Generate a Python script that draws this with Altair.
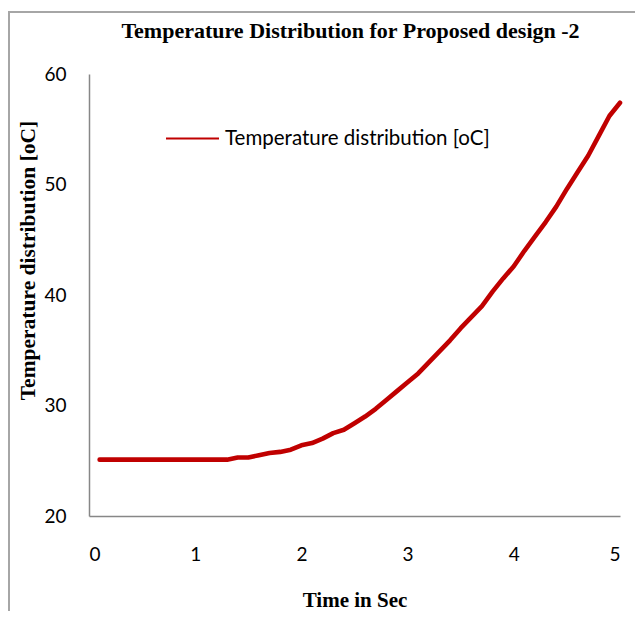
import altair as alt
import pandas as pd

# Time (s) and temperature (oC)
time_s = [0.1, 0.2, 0.3, 0.4, 0.5, 0.6, 0.7, 0.8, 0.9, 1.0,
          1.1, 1.2, 1.3, 1.4, 1.5, 1.6, 1.7, 1.8, 1.9, 2.0,
          2.1, 2.2, 2.3, 2.4, 2.5, 2.6, 2.7, 2.8, 2.9, 3.0,
          3.1, 3.2, 3.3, 3.4, 3.5, 3.6, 3.7, 3.8, 3.9, 4.0,
          4.1, 4.2, 4.3, 4.4, 4.5, 4.6, 4.7, 4.8, 4.9, 5.0]
temperature = [25.1, 25.1, 25.1, 25.1, 25.1, 25.1, 25.1, 25.1, 25.1, 25.1,
               25.1, 25.1, 25.1, 25.3, 25.3, 25.5, 25.7, 25.8, 26.0, 26.4,
               26.6, 27.0, 27.5, 27.8, 28.4, 29.0, 29.7, 30.5, 31.3, 32.1,
               32.9, 33.9, 34.9, 35.9, 37.0, 38.0, 39.0, 40.3, 41.5, 42.6,
               44.0, 45.3, 46.6, 48.0, 49.6, 51.1, 52.6, 54.4, 56.2, 57.4]
series_name = "Temperature distribution [oC]"
x_ticks = [0, 1, 2, 3, 4, 5]
y_ticks = [20, 30, 40, 50, 60]

df = pd.DataFrame({"time": time_s, "temp": temperature, "series": series_name})

W, H = 531, 442

line = alt.Chart(df).mark_line(strokeWidth=4.6, strokeCap="round", strokeJoin="round").encode(
    x=alt.X("time:Q",
            scale=alt.Scale(domain=[0, 5], nice=False, zero=False),
            axis=alt.Axis(values=x_ticks, title="Time in Sec", grid=False, ticks=False,
                          tickSize=0, labelPadding=38, labelBaseline="middle",
                          titleY=84, titleBaseline="middle", titleFontSize=21,
                          format="d")),
    y=alt.Y("temp:Q",
            scale=alt.Scale(domain=[20, 60], nice=False, zero=False),
            axis=alt.Axis(values=y_ticks, title="Temperature distribution [oC]", grid=False,
                          ticks=False, tickSize=0, labelPadding=23,
                          titleX=-61, titleY=186, titleAngle=270,
                          titleBaseline="middle", titleAlign="center",
                          titleFontSize=21.5)),
    color=alt.Color("series:N",
                    scale=alt.Scale(domain=[series_name], range=["#C00000"]),
                    legend=alt.Legend(title=None, orient="none", legendX=76, legendY=37,
                                      symbolType="stroke", symbolSize=2809,
                                      symbolStrokeWidth=2, labelOffset=5,
                                      labelFont="Lato", labelFontSize=20.5,
                                      labelColor="#000000", padding=0,
                                      labelLimit=400)),
)

frame = alt.Chart(alt.Data(values=[{"a": 1}])).mark_rect(
    fill=None, stroke="#A6A6A6", strokeWidth=2
).encode(
    x=alt.value(-80), x2=alt.value(700),
    y=alt.value(-62), y2=alt.value(700),
)

chart = alt.layer(frame, line).properties(
    width=W, height=H,
    title=alt.Title("Temperature Distribution for Proposed design -2",
                    font="Liberation Serif", fontSize=22, fontWeight="bold",
                    color="#000000", anchor="middle", frame="group",
                    baseline="alphabetic", offset=0, dy=49, dx=-4),
    autosize=alt.AutoSizeParams(type="none"),
    padding={"left": 81, "top": 66, "right": 15, "bottom": 95},
).configure_view(stroke=None).configure_axis(
    domainColor="#878787", domainWidth=1.5,
    labelFont="Lato", labelFontSize=19, labelColor="#000000",
    titleFont="Liberation Serif", titleFontSize=20, titleFontWeight="bold",
    titleColor="#000000",
)

chart.save("out.html", embed_options={"renderer": "svg", "actions": False})
